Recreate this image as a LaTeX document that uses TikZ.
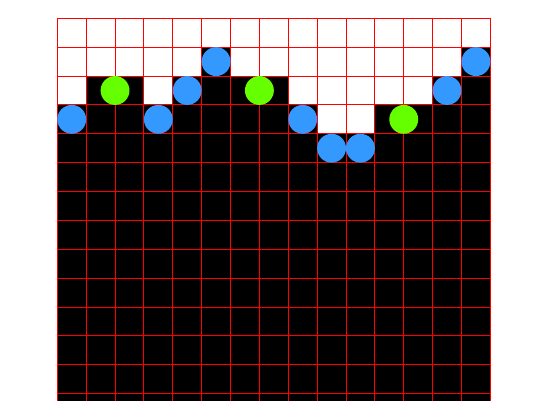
\documentclass[tikz,border=0pt]{standalone}
\usepackage{tikz}
\usetikzlibrary{positioning}
\definecolor{GridRed}{RGB}{255,0,0}
\definecolor{GrainBlue}{RGB}{51,153,255}
\definecolor{GrainGreen}{RGB}{102,255,0}

\begin{document}
\begin{tikzpicture}[
    x=1cm, y=1cm,
    ground/.style={
        fill=black,
        draw=none
    },
    gridline/.style={
        draw=GridRed,
        line width=0.9pt
    },
    grain/.style={
        circle,
        inner sep=0pt,
        minimum size=1cm,
        fill=GrainBlue
    },
    seed/.style={
        circle,
        inner sep=0pt,
        minimum size=1cm,
        fill=GrainGreen
    }
]

% =========================
% Frame: 550x400 page
% =========================
\useasboundingbox (-1.985,0.634) rectangle (17.066,-13.222);
\clip (-1.985,0.634) rectangle (17.066,-13.222);

% =========================
% Ground: top row of each column
% =========================
\foreach \col/\top in {0/3,1/2,2/2,3/3,4/2,5/1,6/2,7/2,8/3,9/4,10/4,11/3,12/3,13/2,14/1}
    \fill[ground] (\col,-\top) rectangle (\col+1,-14);

% =========================
% Grid
% =========================
\draw[gridline] (0,-14) grid (15,0);

% =========================
% Grains on the surface
% =========================
\node[grain] (b1) at (0.5,-3.5) {};
\node[grain] (b2) at (3.5,-3.5) {};
\node[grain] (b3) at (4.5,-2.5) {};
\node[grain] (b4) at (5.5,-1.5) {};
\node[grain] (b5) at (8.5,-3.5) {};
\node[grain] (b6) at (9.5,-4.5) {};
\node[grain] (b7) at (10.5,-4.5) {};
\node[grain] (b8) at (13.5,-2.5) {};
\node[grain] (b9) at (14.5,-1.5) {};

\node[seed] (g1) at (2,-2.5) {};
\node[seed] (g2) at (7,-2.5) {};
\node[seed] (g3) at (12,-3.5) {};

\end{tikzpicture}
\end{document}
